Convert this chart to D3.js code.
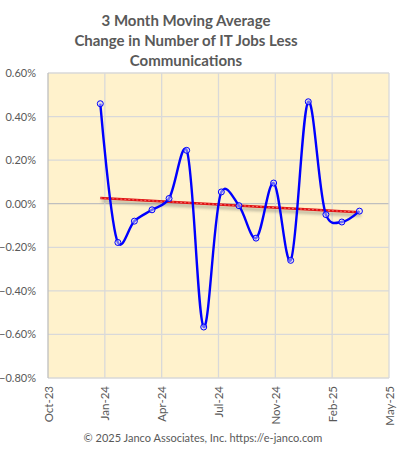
<!DOCTYPE html>
<html>
<head>
<meta charset="utf-8">
<script src="https://cdn.jsdelivr.net/npm/d3@7"></script>
<style>
  body { margin: 0; background: #fff; }
  text { font-family: Lato, "Open Sans", sans-serif; fill: #595959; }
</style>
</head>
<body>
<svg id="chart"></svg>
<script>
// monthly values (percent change, 3 month moving avg)
var months = ["2024-01-01","2024-02-01","2024-03-01","2024-04-01","2024-05-01","2024-06-01",
  "2024-07-01","2024-08-01","2024-09-01","2024-10-01","2024-11-01","2024-12-01",
  "2025-01-01","2025-02-01","2025-03-01","2025-04-01"];
var values = [0.459, -0.178, -0.080, -0.028, 0.024, 0.245, -0.566, 0.054,
  -0.009, -0.158, 0.095, -0.260, 0.468, -0.050, -0.084, -0.034];

var xTicks = ["2023-10-01","2024-01-09","2024-04-18","2024-07-27","2024-11-04","2025-02-12","2025-05-23"];
var yTicks = [0.6, 0.4, 0.2, 0, -0.2, -0.4, -0.6, -0.8];
var titleLines = ["3 Month Moving Average", "Change in Number of IT Jobs Less", "Communications"];
var footer = "\u00a9 2025 Janco Associates, Inc. https://e-janco.com";

var w = 397, h = 450;
var margin = { top: 73, bottom: 72, left: 48, right: 8 };

var parse = d3.timeParse("%Y-%m-%d");
var data = months.map(function(m, i) { return { date: parse(m), value: values[i] }; });
var tickDates = xTicks.map(parse);

var svg = d3.select("#chart").attr("width", w).attr("height", h);

var xScale = d3.scaleTime()
  .domain([tickDates[0], tickDates[tickDates.length - 1]])
  .range([margin.left, w - margin.right]);
var yScale = d3.scaleLinear()
  .domain([-0.8, 0.6])
  .range([h - margin.bottom, margin.top]);

var defs = svg.append("defs");
defs.append("filter").attr("id", "shadow")
  .attr("x", "-10%").attr("y", "-300%").attr("width", "120%").attr("height", "700%")
  .append("feGaussianBlur").attr("stdDeviation", 1.6);

// plot background
svg.append("rect")
  .attr("x", margin.left).attr("y", margin.top)
  .attr("width", w - margin.left - margin.right)
  .attr("height", h - margin.top - margin.bottom)
  .attr("fill", "#FFF2CC");

// gridlines
svg.append("g").selectAll("line").data(yTicks).enter().append("line")
  .attr("x1", margin.left).attr("x2", w - margin.right)
  .attr("y1", function(d) { return yScale(d); }).attr("y2", function(d) { return yScale(d); })
  .attr("stroke", function(d) { return d === 0 ? "#BFBFBF" : "#D9D9D9"; })
  .attr("stroke-width", 1.3);
svg.append("g").selectAll("line").data(tickDates).enter().append("line")
  .attr("x1", function(d) { return xScale(d); }).attr("x2", function(d) { return xScale(d); })
  .attr("y1", margin.top).attr("y2", h - margin.bottom)
  .attr("stroke", function(d, i) { return i === 0 ? "#BFBFBF" : "#D9D9D9"; })
  .attr("stroke-width", 1.3);

// y axis labels
var yAxis = d3.axisLeft(yScale)
  .tickValues(yTicks)
  .tickSize(0).tickPadding(12)
  .tickFormat(function(d) { return d3.format(".2f")(d) + "%"; });
svg.append("g")
  .attr("transform", "translate(" + margin.left + ",0)")
  .call(yAxis)
  .call(function(g) { g.select(".domain").remove(); })
  .selectAll("text")
  .style("font-size", "11px").attr("fill", "#595959");

// x axis labels
var xAxis = d3.axisBottom(xScale)
  .tickValues(tickDates)
  .tickFormat(d3.timeFormat("%b-%y"))
  .tickSize(0);
svg.append("g")
  .attr("transform", "translate(0," + (h - margin.bottom) + ")")
  .call(xAxis)
  .call(function(g) { g.select(".domain").remove(); })
  .selectAll("text")
  .attr("transform", "rotate(-90)")
  .attr("x", -8).attr("y", 0).attr("dy", "0.35em")
  .style("text-anchor", "end")
  .style("font-size", "11.5px").attr("fill", "#595959");

// trendline (least squares on month index)
var n = values.length;
var mx = d3.mean(d3.range(n)), my = d3.mean(values);
var slope = d3.sum(d3.range(n), function(i) { return (i - mx) * (values[i] - my); }) /
  d3.sum(d3.range(n), function(i) { return (i - mx) * (i - mx); });
var trend = [
  { date: data[0].date, value: my - slope * mx },
  { date: data[n - 1].date, value: my + slope * (n - 1 - mx) }
];
var tline = d3.line()
  .x(function(d) { return xScale(d.date); })
  .y(function(d) { return yScale(d.value); });

svg.append("path").datum(trend)
  .attr("d", tline)
  .attr("transform", "translate(1.5,3)")
  .attr("fill", "none").attr("stroke", "#8a8a7a").attr("stroke-width", 3)
  .attr("opacity", 0.6).attr("filter", "url(#shadow)");
svg.append("path").datum(trend)
  .attr("d", tline)
  .attr("fill", "none").attr("stroke", "#E01010").attr("stroke-width", 2.5);
svg.append("path").datum(trend)
  .attr("d", tline)
  .attr("fill", "none").attr("stroke", "#F56A6A").attr("stroke-width", 1)
  .attr("stroke-dasharray", "2,2");

// smoothed data line
var line = d3.line()
  .curve(d3.curveCatmullRom.alpha(0.2))
  .x(function(d) { return xScale(d.date); })
  .y(function(d) { return yScale(d.value); });

svg.append("path").datum(data)
  .attr("d", line)
  .attr("fill", "none").attr("stroke", "#0000FF").attr("stroke-width", 2.4);

svg.append("g").selectAll("circle").data(data).enter().append("circle")
  .attr("cx", function(d) { return xScale(d.date); })
  .attr("cy", function(d) { return yScale(d.value); })
  .attr("r", 3)
  .attr("fill", "#D6D6F5").attr("fill-opacity", 0.5)
  .attr("stroke", "#0000FF").attr("stroke-width", 1);

// title
svg.append("g").selectAll("text").data(titleLines).enter().append("text")
  .attr("x", 186).attr("y", function(d, i) { return 26 + i * 20; })
  .attr("text-anchor", "middle")
  .style("font-size", "15px").style("font-weight", "bold")
  .text(function(d) { return d; });

svg.append("text")
  .attr("x", 203).attr("y", 442)
  .attr("text-anchor", "middle")
  .style("font-size", "11px")
  .text(footer);
</script>
</body>
</html>
